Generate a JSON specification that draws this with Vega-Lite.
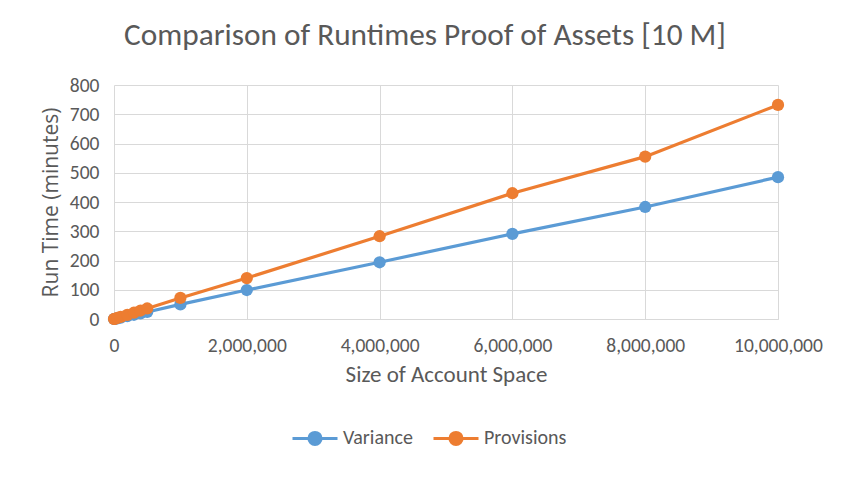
{
  "$schema": "https://vega.github.io/schema/vega-lite/v6.json",
  "autosize": "none",
  "width": 664,
  "height": 234,
  "padding": {"left": 114, "top": 85, "right": 76, "bottom": 159},
  "background": "white",
  "title": {
    "text": "Comparison of Runtimes Proof of Assets [10 M]",
    "fontSize": 31.3,
    "font": "Carlito, Open Sans",
    "fontWeight": "normal",
    "color": "#595959",
    "anchor": "middle",
    "dx": -21,
    "offset": 24
  },
  "data": {
    "values": [
      {"size": 0, "series": "Variance", "time": 0},
      {"size": 10000, "series": "Variance", "time": 0.5},
      {"size": 50000, "series": "Variance", "time": 2.4},
      {"size": 100000, "series": "Variance", "time": 4.8},
      {"size": 200000, "series": "Variance", "time": 9.7},
      {"size": 300000, "series": "Variance", "time": 14.5},
      {"size": 400000, "series": "Variance", "time": 19.4},
      {"size": 500000, "series": "Variance", "time": 24},
      {"size": 1000000, "series": "Variance", "time": 50},
      {"size": 2000000, "series": "Variance", "time": 99},
      {"size": 4000000, "series": "Variance", "time": 194},
      {"size": 6000000, "series": "Variance", "time": 291},
      {"size": 8000000, "series": "Variance", "time": 383},
      {"size": 10000000, "series": "Variance", "time": 485},
      {"size": 0, "series": "Provisions", "time": 0},
      {"size": 10000, "series": "Provisions", "time": 0.7},
      {"size": 50000, "series": "Provisions", "time": 3.5},
      {"size": 100000, "series": "Provisions", "time": 7},
      {"size": 200000, "series": "Provisions", "time": 14},
      {"size": 300000, "series": "Provisions", "time": 21.5},
      {"size": 400000, "series": "Provisions", "time": 29},
      {"size": 500000, "series": "Provisions", "time": 36},
      {"size": 1000000, "series": "Provisions", "time": 72},
      {"size": 2000000, "series": "Provisions", "time": 140},
      {"size": 4000000, "series": "Provisions", "time": 283},
      {"size": 6000000, "series": "Provisions", "time": 430},
      {"size": 8000000, "series": "Provisions", "time": 555},
      {"size": 10000000, "series": "Provisions", "time": 732}
    ]
  },
  "encoding": {
    "x": {
      "field": "size", "type": "quantitative",
      "scale": {"domain": [0, 10000000], "nice": false},
      "axis": {
        "title": "Size of Account Space",
        "values": [0, 2000000, 4000000, 6000000, 8000000, 10000000],
        "format": ",d",
        "labelFlush": false,
        "labelFontSize": 19.5, "labelPadding": 17,
        "titleFontSize": 23, "titlePadding": 9,
        "labelFont": "Carlito, Open Sans", "titleFont": "Carlito, Open Sans",
        "titleFontWeight": "normal",
        "labelColor": "#595959", "titleColor": "#595959",
        "ticks": false, "domainColor": "#d9d9d9", "domainWidth": 1,
        "gridColor": "#d9d9d9", "gridWidth": 1
      }
    },
    "y": {
      "field": "time", "type": "quantitative",
      "scale": {"domain": [0, 800], "nice": false},
      "axis": {
        "title": "Run Time (minutes)",
        "values": [0, 100, 200, 300, 400, 500, 600, 700, 800],
        "labelFlush": false,
        "labelFontSize": 19.5, "labelPadding": 15,
        "titleFontSize": 21, "titlePadding": 8,
        "labelFont": "Carlito, Open Sans", "titleFont": "Open Sans",
        "titleFontWeight": "normal",
        "labelColor": "#595959", "titleColor": "#595959",
        "ticks": false, "domain": false,
        "gridColor": "#d9d9d9", "gridWidth": 1
      }
    },
    "color": {
      "field": "series", "type": "nominal",
      "scale": {"domain": ["Variance", "Provisions"], "range": ["#5b9bd5", "#ed7d31"]},
      "legend": {
        "title": null,
        "orient": "none",
        "legendX": 177,
        "legendY": 329,
        "direction": "horizontal",
        "symbolType": "M-1,0L1,0M-0.27,0A0.27,0.27 0 1,1 0.27,0A0.27,0.27 0 1,1 -0.27,0Z",
        "symbolSize": 2025,
        "symbolStrokeWidth": 3,
        "labelFontSize": 20,
        "labelFont": "Carlito, Open Sans",
        "labelColor": "#595959",
        "labelOffset": 4,
        "columnPadding": 14
      }
    }
  },
  "layer": [
    {"mark": {"type": "line", "strokeWidth": 3.2}},
    {"mark": {"type": "point", "filled": true, "size": 150, "opacity": 1}}
  ],
  "config": {"view": {"stroke": null}}
}
